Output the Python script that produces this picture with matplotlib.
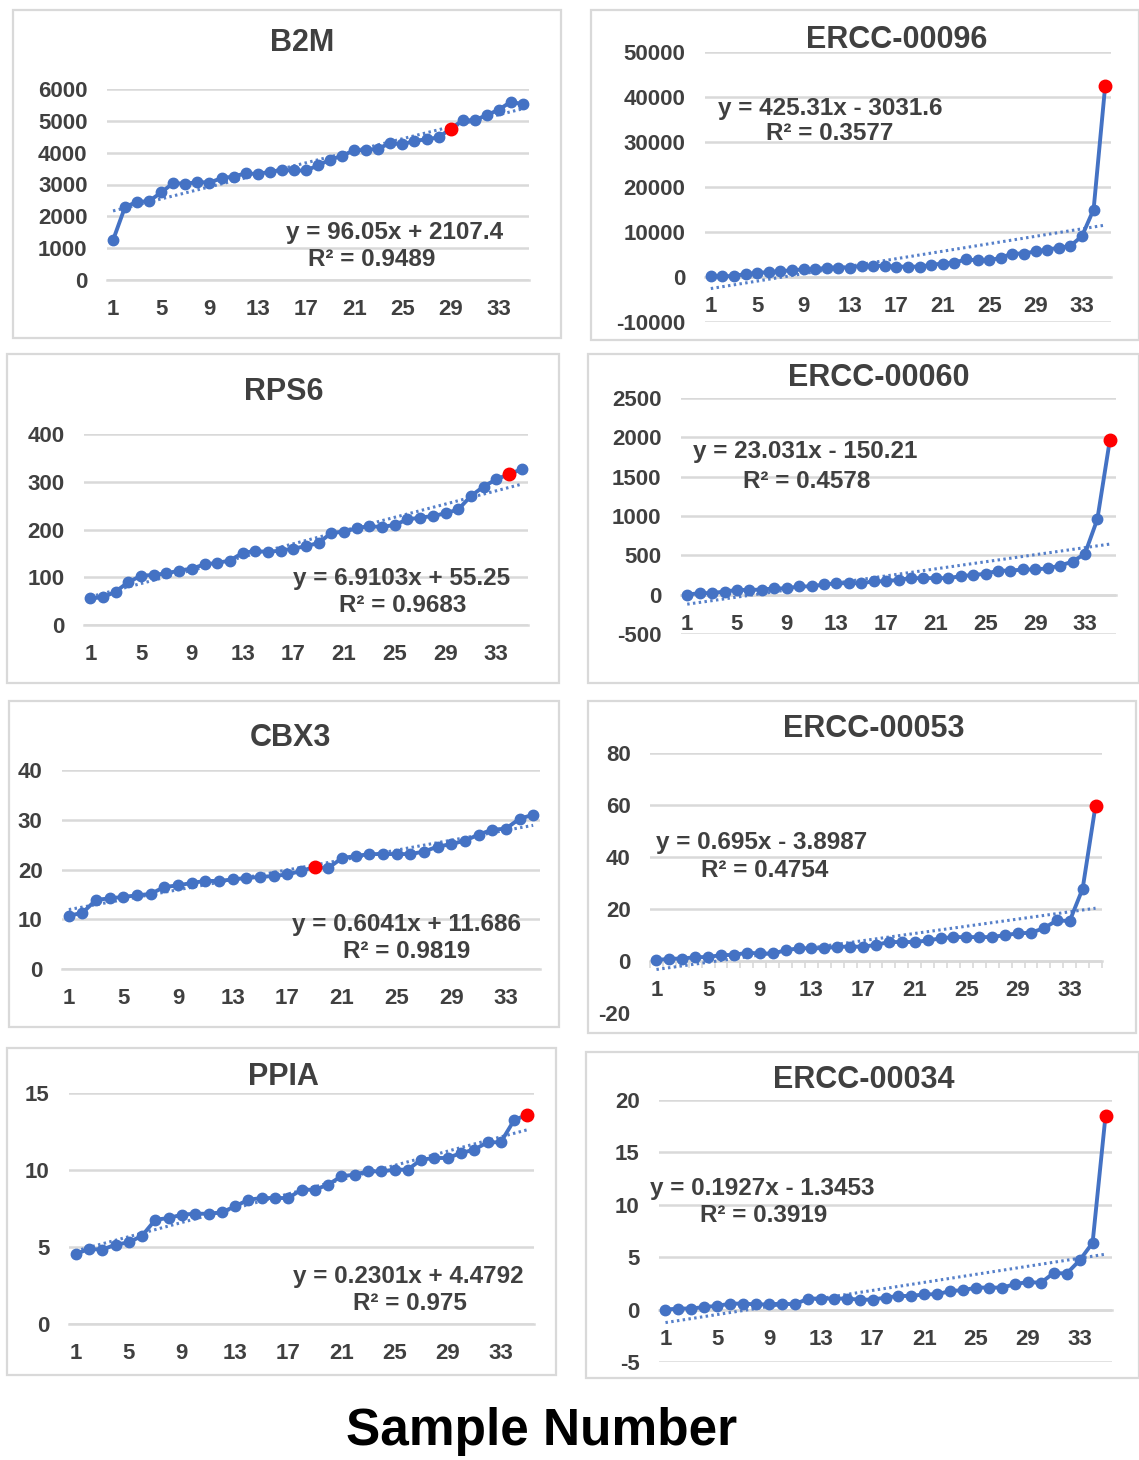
import matplotlib
matplotlib.use("Agg")
import matplotlib.pyplot as plt
from matplotlib.patches import Rectangle
import numpy as np

plt.rcParams['font.family'] = ['Liberation Sans', 'DejaVu Sans']
plt.rcParams['axes.unicode_minus'] = False

# ---------------- data ----------------
sample_numbers = list(range(1, 36))
tick_labels = [1, 5, 9, 13, 17, 21, 25, 29, 33]

titles = ["B2M", "ERCC-00096", "RPS6", "ERCC-00060",
          "CBX3", "ERCC-00053", "PPIA", "ERCC-00034"]

b2m = [1250, 2300, 2450, 2480, 2750, 3050, 3020, 3080, 3060, 3200,
       3250, 3350, 3330, 3400, 3450, 3440, 3440, 3600, 3780, 3900,
       4080, 4080, 4130, 4300, 4260, 4370, 4420, 4480, 4750, 5020,
       5020, 5180, 5350, 5600, 5520]
ercc_00096 = [200, 200, 200, 700, 900, 1100, 1300, 1500, 1700, 1700,
              2100, 2100, 2100, 2500, 2500, 2500, 2300, 2300, 2300, 2700,
              3000, 3200, 3900, 3700, 3700, 4300, 5200, 5200, 5700, 6100,
              6500, 6900, 9100, 15000, 42500]
rps6 = [56, 58, 70, 90, 103, 105, 108, 114, 118, 127,
        130, 135, 151, 155, 153, 156, 160, 165, 172, 193,
        195, 203, 207, 205, 210, 221, 225, 228, 234, 242,
        270, 290, 305, 316, 326]
ercc_00060 = [0, 20, 20, 40, 60, 60, 65, 80, 80, 105,
              105, 130, 145, 145, 145, 170, 170, 190, 210, 210,
              210, 210, 235, 250, 265, 305, 305, 320, 320, 335,
              370, 420, 520, 960, 1960]
cbx3 = [10.7, 11.3, 13.9, 14.2, 14.5, 14.8, 15.1, 16.5, 16.8, 17.3,
        17.7, 17.7, 18.0, 18.3, 18.5, 18.7, 19.0, 19.7, 20.5, 20.3,
        22.3, 22.7, 23.1, 23.1, 23.1, 23.1, 23.6, 24.6, 25.1, 25.8,
        27.0, 28.0, 28.2, 30.2, 31.0]
ercc_00053 = [0.3, 0.9, 0.9, 1.5, 1.5, 2.3, 2.3, 3.2, 2.9, 2.9,
              4.1, 4.9, 4.9, 4.9, 5.5, 5.5, 5.5, 6.2, 7.3, 7.3,
              7.3, 7.9, 8.7, 9.2, 9.2, 9.2, 9.2, 10.0, 10.6, 10.9,
              12.6, 15.6, 15.4, 27.8, 59.8]
ppia = [4.55, 4.87, 4.83, 5.15, 5.30, 5.73, 6.77, 6.88, 7.10, 7.16,
        7.16, 7.25, 7.64, 8.07, 8.18, 8.18, 8.18, 8.72, 8.72, 9.05,
        9.59, 9.70, 9.91, 9.91, 10.02, 10.02, 10.67, 10.78, 10.78, 11.10,
        11.32, 11.80, 11.80, 13.23, 13.60]
ercc_00034 = [0.0, 0.1, 0.1, 0.25, 0.35, 0.57, 0.57, 0.5, 0.5, 0.57,
              0.5, 1.05, 1.05, 1.05, 1.05, 0.95, 0.95, 1.15, 1.3, 1.3,
              1.46, 1.46, 1.78, 1.85, 2.1, 2.1, 2.1, 2.42, 2.64, 2.55,
              3.5, 3.44, 4.7, 6.37, 18.5]

series = [b2m, ercc_00096, rps6, ercc_00060, cbx3, ercc_00053, ppia, ercc_00034]

# trendline equations as printed on the chart
slopes = [96.05, 425.31, 6.9103, 23.031, 0.6041, 0.695, 0.2301, 0.1927]
intercepts = [2107.4, -3031.6, 55.25, -150.21, 11.686, -3.8987, 4.4792, -1.3453]
r_squared = ["0.9489", "0.3577", "0.9683", "0.4578", "0.9819", "0.4754", "0.975", "0.3919"]

highlight_sample = [29, 35, 34, 35, 19, 35, 35, 35]

y_ticks = [
    [0, 1000, 2000, 3000, 4000, 5000, 6000],
    [-10000, 0, 10000, 20000, 30000, 40000, 50000],
    [0, 100, 200, 300, 400],
    [-500, 0, 500, 1000, 1500, 2000, 2500],
    [0, 10, 20, 30, 40],
    [-20, 0, 20, 40, 60, 80],
    [0, 5, 10, 15],
    [-5, 0, 5, 10, 15, 20],
]

# ---------------- layout (pixels) ----------------
W, H = 1139, 1460
boxes = [(13, 10, 561, 338), (591, 10, 1139, 340),
         (7, 354, 559, 683), (588, 354, 1139, 683),
         (9, 701, 559, 1027), (588, 701, 1136, 1033),
         (7, 1048, 556, 1375), (586, 1052, 1139, 1378)]
# plot area: x-left, x-right, y of top tick, y of bottom tick
plot_areas = [(107, 529, 89, 280), (705, 1111, 52, 322),
              (84, 528, 434, 625), (681, 1116, 398, 634),
              (62, 540, 770, 969), (650, 1102, 753, 1013),
              (69, 534, 1093, 1324), (659, 1112, 1100, 1362)]
title_pos = [(302, 43), (897, 40), (284, 392), (879, 378),
             (290, 738), (874, 729), (283, 1077), (864, 1080)]
eq_pos = [(395, 232), (830, 108), (402, 578), (805, 452),
          (406, 925), (762, 842), (408, 1277), (762, 1188)]
r2_pos = [(372, 259), (830, 134), (403, 606), (807, 482),
          (407, 951), (765, 870), (410, 1304), (764, 1216)]

BLUE = "#4472C4"
GRID = "#D9D9D9"
TXT = "#404040"

fig = plt.figure(figsize=(W / 100, H / 100), dpi=100)


def fx(px):
    return px / W


def fy(py):
    return 1 - py / H


for i in range(8):
    bx0, by0, bx1, by1 = boxes[i]
    fig.add_artist(Rectangle((fx(bx0), fy(by1)), fx(bx1) - fx(bx0), fy(by0) - fy(by1),
                             transform=fig.transFigure, facecolor="white",
                             edgecolor=GRID, lw=1.6, zorder=0))

    x0, x1, ytop, ybot = plot_areas[i]
    ax = fig.add_axes([fx(x0), fy(ybot), fx(x1) - fx(x0), fy(ytop) - fy(ybot)])
    ax.set_zorder(1)
    ax.patch.set_alpha(0)
    yt = y_ticks[i]
    ax.set_ylim(yt[0], yt[-1])
    ax.set_xlim(0.5, 35.5)
    ax.set_yticks(yt)
    ax.set_xticks(tick_labels)
    ax.set_xticklabels([str(t) for t in tick_labels])
    for s in ["top", "right", "left"]:
        ax.spines[s].set_visible(False)
    ax.spines["bottom"].set_position(("data", 0))
    ax.spines["bottom"].set_color(GRID)
    ax.spines["bottom"].set_linewidth(1.8)
    ax.grid(axis="y", color=GRID, lw=1.8)
    ax.set_axisbelow(True)
    ax.tick_params(axis="x", length=0, pad=14, labelsize=16, labelcolor=TXT)
    ax.tick_params(axis="y", length=0, pad=14, labelsize=16, labelcolor=TXT)
    for lab in ax.get_xticklabels() + ax.get_yticklabels():
        lab.set_fontweight("bold")

    if titles[i] == "ERCC-00053":
        # this chart shows its category axis with tick marks and no bottom gridline
        ax.yaxis.get_gridlines()[0].set_visible(False)
        ax.set_xticks(np.arange(0.5, 36, 1), minor=True)
        ax.tick_params(axis="x", which="minor", length=5, width=1.2, color=GRID,
                       direction="out")

    ys = series[i]
    ax.plot(sample_numbers, ys, color=BLUE, lw=2.8, marker="o", ms=7.5,
            mfc=BLUE, mec=BLUE, zorder=3, clip_on=False)
    # linear trendline fitted to the plotted data (as the spreadsheet does)
    m, c = np.polyfit(sample_numbers, ys, 1)
    xs = np.array([1, 35])
    ax.plot(xs, m * xs + c, color=BLUE, lw=2.2,
            ls=(0, (0.8, 1.1)), zorder=4, alpha=0.9)
    hs = highlight_sample[i]
    ax.plot([hs], [ys[hs - 1]], "o", color="#FF0000", ms=9, zorder=5, clip_on=False)

    fig.text(fx(title_pos[i][0]), fy(title_pos[i][1]), titles[i], ha="center", va="center",
             fontsize=22, fontweight="bold", color=TXT)
    b = intercepts[i]
    sign = "+" if b >= 0 else "-"
    eq = f"y = {slopes[i]}x {sign} {abs(b)}"
    fig.text(fx(eq_pos[i][0]), fy(eq_pos[i][1]), eq, ha="center", va="center",
             fontsize=17.5, fontweight="bold", color=TXT)
    fig.text(fx(r2_pos[i][0]), fy(r2_pos[i][1]), f"R² = {r_squared[i]}", ha="center",
             va="center", fontsize=17.5, fontweight="bold", color=TXT)

fig.text(fx(542), fy(1432), "Sample Number", ha="center", va="center",
         fontsize=37, fontweight="bold", color="black")

fig.savefig("out.png", dpi=100, facecolor="white")
